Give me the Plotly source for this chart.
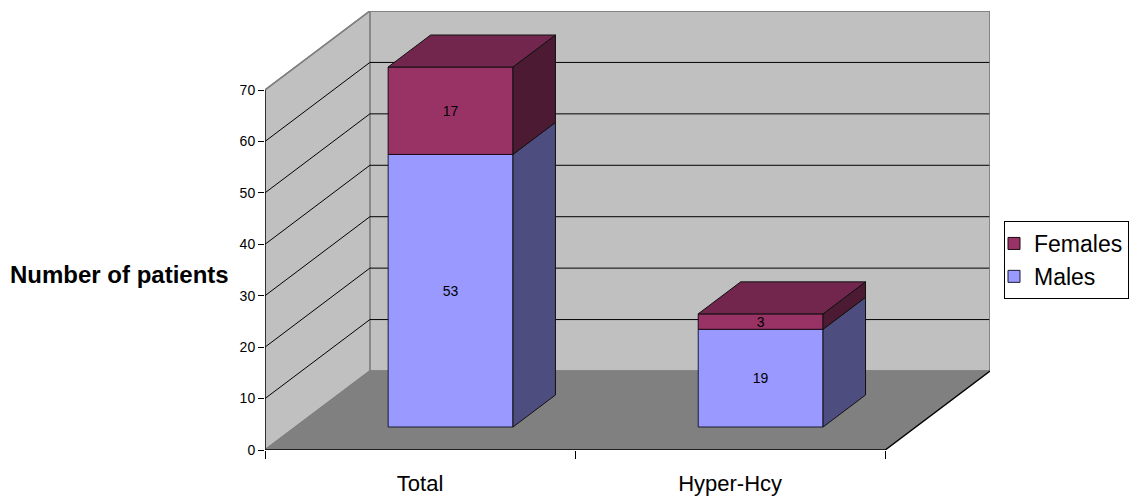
import plotly.graph_objects as go

categories = ["Total", "Hyper-Hcy"]
males = [53, 19]
females = [17, 3]
y_ticks = [0, 10, 20, 30, 40, 50, 60, 70]

FONT = "Liberation Sans, Arial, sans-serif"
PX_X = 310.5            # pixels per category
PX_Y = 360.0 / 70       # pixels per value unit
DX = 105 / PX_X         # depth of the box in category units
DY = 79 / PX_Y          # depth of the box in value units
D0, D1 = 23 / 79, 55 / 79   # front and back of the bars, as depth fractions
BAR_W = 125 / PX_X
XMAX, YMAX = 2 + DX, 70 + DY


def proj(x, v, d):
    return x + d * DX, v + d * DY


def poly(points):
    xs, ys = zip(*points)
    return list(xs) + [xs[0]], list(ys) + [ys[0]]


def path(points):
    return "M " + " L ".join(f"{x} {y}" for x, y in points) + " Z"


fig = go.Figure()

# box: walls and floor, below everything
walls = [
    ([(0, 0, 1), (2, 0, 1), (2, 70, 1), (0, 70, 1)], "#C0C0C0"),
    ([(0, 0, 0), (0, 0, 1), (0, 70, 1), (0, 70, 0)], "#C0C0C0"),
    ([(0, 0, 0), (2, 0, 0), (2, 0, 1), (0, 0, 1)], "#808080"),
]
for pts, col in walls:
    fig.add_shape(type="path", path=path([proj(*p) for p in pts]), fillcolor=col,
                  line=dict(color="#808080", width=1.5), layer="below", xref="x", yref="y")

# gridlines on the walls
for v in y_ticks[1:-1]:
    a, b, c = proj(0, v, 0), proj(0, v, 1), proj(2, v, 1)
    fig.add_shape(type="path", path=f"M {a[0]} {a[1]} L {b[0]} {b[1]} L {c[0]} {c[1]}",
                  line=dict(color="black", width=1), layer="below", xref="x", yref="y")

# outer edges of the box and axis lines (do not cross any bar)
edges = [
    ([(0, 70, 0), (0, 70, 1), (2, 70, 1), (2, 0, 1)], "#808080", 1.5),
    ([(0, 70, 0), (0, 0, 0), (2, 0, 0), (2, 0, 1)], "black", 1.3),
]
for seg, col, w in edges:
    pr = [proj(*p) for p in seg]
    fig.add_trace(go.Scatter(x=[p[0] for p in pr], y=[p[1] for p in pr], mode="lines",
                             line=dict(color=col, width=w), hoverinfo="skip",
                             showlegend=False, cliponaxis=False))

# side and top faces of the bars
series = [("Males", males, "#9999FF", "#4D4D80", "#4D4D80"),
          ("Females", females, "#993366", "#4C1A33", "#72264D")]
for name, vals, front, side, top in series:
    for i, val in enumerate(vals):
        base = males[i] if name == "Females" else 0
        left = i + 0.5 - BAR_W / 2
        right = i + 0.5 + BAR_W / 2
        pts = [proj(right, base, D0), proj(right, base + val, D0),
               proj(right, base + val, D1), proj(right, base, D1)]
        xs, ys = poly(pts)
        fig.add_trace(go.Scatter(x=xs, y=ys, mode="lines", fill="toself", fillcolor=side,
                                 line=dict(color="#111111", width=1), hoverinfo="skip",
                                 showlegend=False))
        if name == "Females":
            pts = [proj(left, base + val, D0), proj(right, base + val, D0),
                   proj(right, base + val, D1), proj(left, base + val, D1)]
            xs, ys = poly(pts)
            fig.add_trace(go.Scatter(x=xs, y=ys, mode="lines", fill="toself", fillcolor=top,
                                     line=dict(color="#111111", width=1), hoverinfo="skip",
                                     showlegend=False))

# front faces as real bars
bar_x = [proj(i + 0.5, 0, D0)[0] for i in range(len(categories))]
shift = D0 * DY
fig.add_trace(go.Bar(name="Males", x=bar_x, y=males, base=[shift] * len(males), width=BAR_W,
                     marker=dict(color="#9999FF", line=dict(color="#1a1a33", width=1)),
                     text=[str(v) for v in males], textposition="inside", textangle=0,
                     insidetextanchor="middle", constraintext="none",
                     textfont=dict(color="black", size=14, family=FONT)))
fig.add_trace(go.Bar(name="Females", x=bar_x, y=females,
                     base=[shift + m for m in males], width=BAR_W,
                     marker=dict(color="#993366", line=dict(color="#1a0a14", width=1)),
                     text=[str(v) for v in females], textposition="inside", textangle=0,
                     insidetextanchor="middle", constraintext="none",
                     textfont=dict(color="black", size=14, family=FONT)))

fig.add_annotation(text="<b>Number of patients</b>", xref="paper", yref="paper",
                   x=-0.0465, y=0.40, xanchor="right", yanchor="middle", showarrow=False,
                   font=dict(size=24, color="black", family=FONT))

fig.update_layout(
    width=1134, height=499, autosize=False,
    margin=dict(l=264.5, r=143.5, t=10.5, b=48.5, autoexpand=False),
    paper_bgcolor="white", plot_bgcolor="white",
    barmode="overlay",
    font=dict(family=FONT, color="black"),
    showlegend=True,
    legend=dict(x=1004 / 1134, y=1 - 221 / 499, xref="container", yref="container",
                xanchor="left", yanchor="top", traceorder="reversed",
                bgcolor="white", bordercolor="black", borderwidth=1,
                font=dict(size=23, color="black", family=FONT), itemwidth=30,
                indentation=-11),
    xaxis=dict(range=[0, XMAX], showgrid=False, zeroline=False, showline=False,
               tickmode="array", tickvals=[0.5, 1.5], ticktext=categories,
               ticks="outside", ticklen=14, tickcolor="rgba(0,0,0,0)",
               tickfont=dict(size=22, color="black", family=FONT),
               minor=dict(tickmode="array", tickvals=[0, 1, 2], ticks="outside",
                          ticklen=8, tickcolor="black", tickwidth=1, showgrid=False)),
    yaxis=dict(range=[0, YMAX], showgrid=False, zeroline=False, showline=False,
               tickmode="array", tickvals=y_ticks, ticks="outside", ticklen=6,
               tickcolor="black", tickwidth=1,
               tickfont=dict(size=14, color="black", family=FONT)),
)

fig.write_html("out.html", config={"displayModeBar": False},
               post_script="document.body.style.margin='0';")
